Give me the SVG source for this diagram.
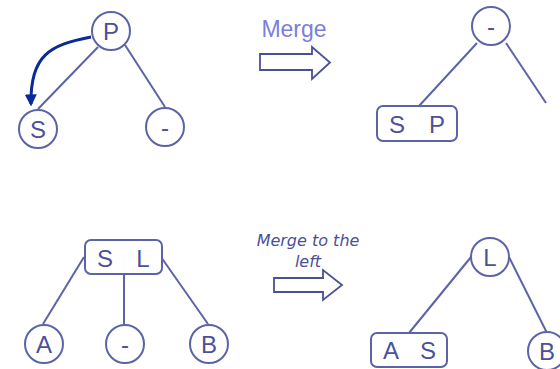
<svg xmlns="http://www.w3.org/2000/svg" width="560" height="369" viewBox="0 0 560 369">
<defs>
<style>
.n{fill:#fff;stroke:#5c63a6;stroke-width:2}
.e{stroke:#5c63a6;stroke-width:2;fill:none}
.t{font-family:"Liberation Sans",Arial,sans-serif;font-size:24px;fill:#4a5199;text-anchor:middle}
.blk{fill:#fff;stroke:#4a5096;stroke-width:1.8}
</style>
<marker id="ah" viewBox="0 0 10 10" refX="8" refY="5" markerWidth="4" markerHeight="4" orient="auto"><path d="M0,0 L10,5 L0,10 z" fill="#0a2a9a"/></marker>
</defs>
<g id="connectors">
<line class="e" x1="98" y1="47" x2="38" y2="109"/>
<line class="e" x1="125" y1="45" x2="165" y2="107"/>
<path d="M91,37 C50,45 30,55 31,104" fill="none" stroke="#0a2a9a" stroke-width="3" marker-end="url(#ah)"/>
<line class="e" x1="477" y1="43" x2="419" y2="106"/>
<line class="e" x1="506" y1="43" x2="546" y2="103"/>
<line class="e" x1="84" y1="257" x2="43" y2="324"/>
<line class="e" x1="124" y1="274" x2="124" y2="324"/>
<line class="e" x1="161" y1="257" x2="208" y2="324"/>
<line class="e" x1="471" y1="257" x2="409" y2="333"/>
<line class="e" x1="509" y1="257" x2="547" y2="333"/>
</g>
<g id="P"><circle class="n" cx="111" cy="31" r="19"/><text class="t" x="111" y="40">P</text></g>
<g id="S"><circle class="n" cx="38" cy="129" r="19"/><text class="t" x="38" y="138">S</text></g>
<g id="dash1"><circle class="n" cx="165" cy="127" r="19"/><text class="t" x="165" y="136">-</text></g>
<g id="merge1"><text x="294" y="37" font-family="'Liberation Sans',Arial,sans-serif" font-size="23" fill="#7b7fd8" text-anchor="middle">Merge</text>
<path class="blk" d="M260,54 L312,54 L312,47 L330,62.5 L312,79 L312,70 L260,70 Z"/></g>
<g id="dash2"><circle class="n" cx="491" cy="26" r="19"/><text class="t" x="491" y="35">-</text></g>
<g id="SP"><rect class="n" x="377" y="106" width="80" height="35" rx="6"/><text class="t" x="397" y="133">S</text><text class="t" x="437" y="133">P</text></g>
<g id="SL"><rect class="n" x="85" y="240" width="77" height="34" rx="6"/><text class="t" x="105" y="267">S</text><text class="t" x="143" y="267">L</text></g>
<g id="A"><circle class="n" cx="44" cy="344" r="19"/><text class="t" x="44" y="353">A</text></g>
<g id="dash3"><circle class="n" cx="125" cy="344" r="19"/><text class="t" x="125" y="353">-</text></g>
<g id="B1"><circle class="n" cx="209" cy="344" r="19"/><text class="t" x="209" y="353">B</text></g>
<g id="merge2"><text font-family="'DejaVu Sans',Verdana,sans-serif" font-size="16" font-style="italic" fill="#4a5096" text-anchor="middle"><tspan x="308" y="246">Merge to the</tspan><tspan x="308" y="267">left</tspan></text>
<path class="blk" d="M274,278 L323,278 L323,270 L342,285 L323,300 L323,292 L274,292 Z"/></g>
<g id="L"><circle class="n" cx="490" cy="257" r="19"/><text class="t" x="490" y="266">L</text></g>
<g id="AS"><rect class="n" x="371" y="333" width="76" height="34" rx="6"/><text class="t" x="391" y="359">A</text><text class="t" x="428" y="359">S</text></g>
<g id="B2"><circle class="n" cx="547" cy="351" r="19"/><text class="t" x="547" y="360">B</text></g>
</svg>
